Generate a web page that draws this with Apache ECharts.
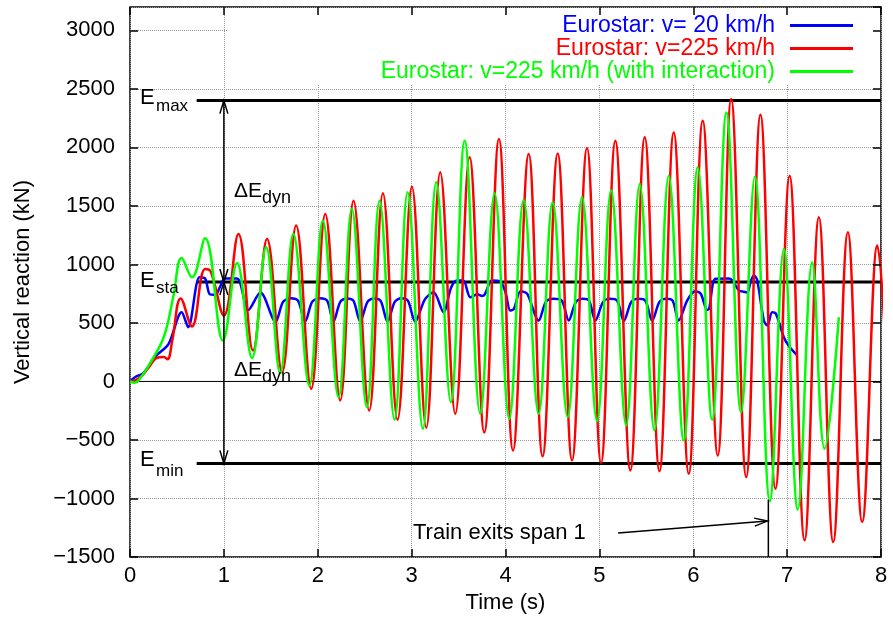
<!DOCTYPE html>
<html>
<head>
<meta charset="utf-8">
<script src="https://cdn.jsdelivr.net/npm/echarts@6/dist/echarts.min.js"></script>
<style>
  html, body { margin: 0; padding: 0; background: #fff; }
  #chart { width: 893px; height: 629px; }
</style>
</head>
<body>
<div id="chart"></div>
<script>
// values: [time (s), vertical reaction (kN)]
var blueSlow = [
  [0, 0], [0.06, 40], [0.14, 70], [0.28, 220], [0.41, 320], [0.55, 592], [0.62, 464],
  [0.74, 890], [0.80, 880], [0.85, 745], [0.91, 740], [0.96, 810], [1.01, 880], [1.14, 880],
  [1.26, 610], [1.39, 760], [1.55, 510], [1.63, 680], [1.71, 712], [1.79, 690],
  [1.866, 512], [1.94, 680], [2.02, 712], [2.10, 690], [2.167, 512], [2.24, 680], [2.31, 710],
  [2.38, 690], [2.452, 512], [2.53, 680], [2.60, 710], [2.67, 688], [2.743, 512], [2.82, 680],
  [2.89, 712], [2.96, 690], [3.038, 510], [3.14, 700], [3.234, 762], [3.34, 592], [3.42, 800],
  [3.483, 862], [3.55, 862], [3.625, 720], [3.70, 745], [3.75, 730], [3.78, 745], [3.856, 862],
  [3.94, 855], [4.00, 762], [4.05, 606], [4.09, 620], [4.16, 771], [4.23, 750], [4.353, 521],
  [4.43, 680], [4.51, 706], [4.60, 690], [4.673, 521], [4.75, 680], [4.82, 706], [4.89, 690],
  [4.957, 521], [5.04, 680], [5.11, 706], [5.19, 690], [5.26, 518], [5.34, 680], [5.41, 706],
  [5.49, 690], [5.562, 520], [5.64, 680], [5.71, 706], [5.78, 690], [5.845, 521], [5.935, 691],
  [6.02, 771], [6.08, 750], [6.148, 612], [6.17, 625], [6.237, 877], [6.38, 880], [6.42, 860],
  [6.485, 777], [6.52, 770], [6.575, 760], [6.61, 850], [6.645, 905], [6.68, 870], [6.752, 521],
  [6.79, 478], [6.84, 592], [6.88, 580], [6.965, 378], [7.02, 300], [7.108, 222]
];

var redFast = [
  [0, 0], [0.1, 30], [0.2, 120], [0.28, 200], [0.36, 210], [0.4, 190], [0.45, 350],
  [0.54, 710], [0.66, 470], [0.8, 962], [0.86, 940], [1.0, 563], [1.155, 1261], [1.31, 265],
  [1.46, 1218], [1.62, 80], [1.77, 1332], [1.93, -62], [2.08, 1432], [2.239, -162],
  [2.381, 1545], [2.548, -248], [2.694, 1608], [2.85, -327], [3.003, 1665], [3.156, -395],
  [3.305, 1787], [3.465, -276], [3.617, 1915], [3.774, -436], [3.93, 2072], [4.08, -589],
  [4.247, 1944], [4.395, -640], [4.556, 1949], [4.709, -674], [4.868, 1995], [5.018, -697],
  [5.17, 2057], [5.33, -760], [5.483, 2086], [5.64, -766], [5.792, 2128], [5.952, -788],
  [6.101, 2228], [6.261, -632], [6.404, 2413], [6.564, -817], [6.716, 2279], [6.876, -916],
  [7.026, 1759], [7.186, -1357], [7.338, 1403], [7.491, -1372], [7.647, 1275], [7.8, -1201],
  [7.96, 1161], [8.12, -1150]
];

var greenFast = [
  [0, 0], [0.05, -10], [0.12, 40], [0.21, 150], [0.36, 380], [0.46, 720], [0.55, 1056],
  [0.66, 890], [0.80, 1223], [0.99, 350], [1.14, 1013], [1.30, 200], [1.45, 1147], [1.60, 71],
  [1.74, 1261], [1.91, -34], [2.054, 1374], [2.221, -134], [2.363, 1474], [2.523, -219],
  [2.658, 1545], [2.818, -327], [2.957, 1616], [3.12, -404], [3.262, 1702], [3.418, -177],
  [3.565, 2057], [3.731, -276], [3.884, 1608], [4.04, -319], [4.193, 1550], [4.353, -276],
  [4.502, 1531], [4.662, -305], [4.815, 1574], [4.975, -339], [5.125, 1631], [5.285, -376],
  [5.43, 1688], [5.586, -418], [5.739, 1759], [5.899, -504], [6.048, 1830], [6.201, -327],
  [6.354, 2299], [6.51, -262], [6.656, 1750], [6.816, -1022], [6.965, 1133], [7.114, -1095],
  [7.267, 1019], [7.399, -575], [7.551, 549]
];

var seriesNames = ['Eurostar: v= 20 km/h', 'Eurostar: v=225 km/h', 'Eurostar: v=225 km/h (with interaction)'];
var seriesColors = ['#0000ff', '#ff0000', '#00ff00'];

// E_max, E_sta, E_min levels (kN)
var levelValues = [2400, 850, -700];
var levelStart = 0.71;

// arrows: [x1, y1, x2, y2, heads]  heads: 0 none, 1 at end, 2 both ends
var arrows = [
  [1, 850, 1, 2400, 2],
  [1, 850, 1, -700, 2],
  [5.2, -1295, 6.79, -1193, 1],
  [6.8, -1500, 6.8, -1010, 0]
];

var xTicks = { min: 0, max: 8, step: 1 };
var yTicks = { min: -1500, max: 3200, step: 500 };

var FONT = 'Liberation Sans, Arial, Helvetica, sans-serif';
var chart = echarts.init(document.getElementById('chart'));

function tickStyle() {
  return { show: true, inside: true, length: 8, lineStyle: { color: '#000', width: 1.5 } };
}

function arrowHead(tip, from) {
  var dx = tip[0] - from[0], dy = tip[1] - from[1];
  var len = Math.sqrt(dx * dx + dy * dy);
  var ux = dx / len, uy = dy / len;
  var L = 13, W = 4;
  return [
    [tip[0] - ux * L - uy * W, tip[1] - uy * L + ux * W],
    [tip[0], tip[1]],
    [tip[0] - ux * L + uy * W, tip[1] - uy * L - ux * W]
  ];
}

var series = [];

series.push({
  type: 'line', silent: true, symbol: 'none', z: 1,
  data: [[0, 0], [8, 0]],
  lineStyle: { color: '#000', width: 1 }
});

levelValues.forEach(function (v) {
  series.push({
    type: 'line', silent: true, symbol: 'none', z: 1,
    data: [[levelStart, v], [8, v]],
    lineStyle: { color: '#000', width: 3 }
  });
});

[blueSlow, redFast, greenFast].forEach(function (d, i) {
  series.push({
    name: seriesNames[i],
    type: 'line',
    symbol: 'none',
    smooth: i === 0 ? 0.3 : 0.4,
    data: d,
    color: seriesColors[i],
    lineStyle: { color: seriesColors[i], width: 2.5 },
    z: 2
  });
});

series.push({
  type: 'custom', silent: true, z: 3,
  data: arrows,
  renderItem: function (params, api) {
    var a = api.coord([api.value(0), api.value(1)]);
    var b = api.coord([api.value(2), api.value(3)]);
    var heads = api.value(4);
    var st = { stroke: '#000', lineWidth: 1.5, fill: null };
    var kids = [{ type: 'line', shape: { x1: a[0], y1: a[1], x2: b[0], y2: b[1] }, style: st }];
    if (heads >= 1) kids.push({ type: 'polyline', shape: { points: arrowHead(b, a) }, style: st });
    if (heads >= 2) kids.push({ type: 'polyline', shape: { points: arrowHead(a, b) }, style: st });
    return { type: 'group', children: kids };
  }
});

function txt(x, y, s, size) {
  return {
    type: 'text', x: x, y: y, z: 10,
    style: { text: s, fontSize: size, fontFamily: FONT, fill: '#000', verticalAlign: 'middle', align: 'left' }
  };
}

chart.setOption({
  animation: false,
  backgroundColor: '#fff',
  textStyle: { fontFamily: FONT },
  grid: { left: 130, right: 12, top: 7, bottom: 72, show: true, borderColor: '#000', borderWidth: 1.5, backgroundColor: 'transparent' },
  legend: {
    orient: 'vertical', right: 40, top: 14, align: 'right',
    itemWidth: 63, itemHeight: 3, itemGap: 0, padding: 0,
    icon: 'rect', selectedMode: false, z: 6,
    textStyle: { fontSize: 23, lineHeight: 23, fontFamily: FONT, padding: [0, 10, 0, 0] },
    data: seriesNames.map(function (n, i) {
      return { name: n, textStyle: { color: seriesColors[i] } };
    })
  },
  xAxis: [{
    type: 'value', min: xTicks.min, max: xTicks.max, interval: xTicks.step, position: 'bottom',
    axisLine: { show: false, onZero: false }, axisTick: tickStyle(),
    axisLabel: { fontSize: 22, color: '#000', margin: 8, fontFamily: FONT },
    splitLine: { show: true, lineStyle: { type: 'dotted', color: '#999', width: 1 } },
    name: 'Time (s)', nameLocation: 'middle', nameGap: 34,
    nameTextStyle: { fontSize: 22, color: '#000', fontFamily: FONT }
  }, {
    type: 'value', min: xTicks.min, max: xTicks.max, interval: xTicks.step, position: 'top', z: 5,
    axisLine: { show: false, onZero: false }, axisTick: tickStyle(), axisLabel: { show: false }, splitLine: { show: false }
  }],
  yAxis: [{
    type: 'value', min: yTicks.min, max: yTicks.max, interval: yTicks.step, position: 'left',
    axisLine: { show: false, onZero: false }, axisTick: tickStyle(),
    axisLabel: { fontSize: 22, color: '#000', margin: 15, showMaxLabel: false, fontFamily: FONT,
      formatter: function (v) { return v < 0 ? '\u2212' + Math.abs(v) : String(v); } },
    splitLine: { show: true, lineStyle: { type: 'dotted', color: '#999', width: 1 } },
    name: 'Vertical reaction (kN)', nameLocation: 'middle', nameGap: 96,
    nameTextStyle: { fontSize: 22, color: '#000', fontFamily: FONT }
  }, {
    type: 'value', min: yTicks.min, max: yTicks.max, interval: yTicks.step, position: 'right', z: 5,
    axisLine: { show: false, onZero: false }, axisTick: tickStyle(), axisLabel: { show: false }, splitLine: { show: false }
  }],
  graphic: [
    { type: 'rect', z: 1, shape: { x: 227, y: 8, width: 653, height: 76 }, style: { fill: '#fff' } },
    txt(140, 98, 'E', 22), txt(156, 106, 'max', 17),
    txt(140, 281, 'E', 22), txt(156, 288, 'sta', 17),
    txt(140, 460, 'E', 22), txt(156, 471, 'min', 17),
    txt(234, 191, '\u0394E', 21), txt(262, 198, 'dyn', 18),
    txt(234, 370, '\u0394E', 21), txt(262, 377, 'dyn', 18),
    txt(413, 533, 'Train exits span 1', 22)
  ],
  series: series
});
</script>
</body>
</html>
